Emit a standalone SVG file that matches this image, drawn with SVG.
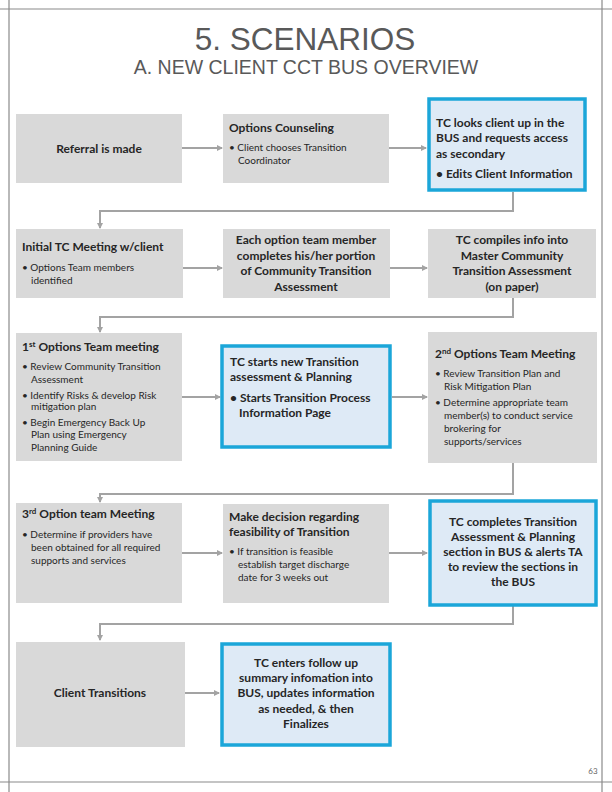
<svg xmlns="http://www.w3.org/2000/svg" width="612" height="792" viewBox="0 0 612 792">
<style>
.frame{stroke:#8a8a8a;stroke-width:1.2;fill:none}
.box{fill:#d9d9d9}
.blue{fill:#deeaf6;stroke:#1ba6d9;stroke-width:3.5}
.conn{stroke:#a3a3a3;stroke-width:2;fill:none}
text{font-family:Lato,"Liberation Sans",sans-serif;fill:#262626}
.h{font-size:12px;font-weight:bold}
.b{font-size:10px}
.bb{font-size:12px;font-weight:bold}
.c{text-anchor:middle}
.title{font-family:"Liberation Sans",Arial,sans-serif;fill:#595959}
</style>
<defs>
<marker id="ah" viewBox="0 0 6 6" refX="5" refY="3" markerWidth="3" markerHeight="3" orient="auto" markerUnits="strokeWidth">
<path d="M0,0 L6,3 L0,6 z" fill="#a3a3a3"/>
</marker>
</defs>
<rect width="612" height="792" fill="#ffffff"/>
<g id="frame">
<line class="frame" x1="0" y1="9" x2="612" y2="9"/>
<line class="frame" x1="0" y1="782" x2="612" y2="782"/>
<line class="frame" x1="9" y1="0" x2="9" y2="792"/>
<line class="frame" x1="602" y1="0" x2="602" y2="792"/>
</g>
<g id="titles">
<text class="title" x="305" y="50" font-size="31.5" text-anchor="middle">5. SCENARIOS</text>
<text class="title" x="306" y="74" font-size="19.5" text-anchor="middle">A. NEW CLIENT CCT BUS OVERVIEW</text>
</g>
<g id="connectors">
<line class="conn" x1="182" y1="148" x2="222" y2="148" marker-end="url(#ah)"/>
<line class="conn" x1="389" y1="148" x2="426" y2="148" marker-end="url(#ah)"/>
<path class="conn" d="M513,192 V211 H100 V228" marker-end="url(#ah)"/>
<line class="conn" x1="183" y1="268" x2="222" y2="268" marker-end="url(#ah)"/>
<line class="conn" x1="390" y1="268" x2="427" y2="268" marker-end="url(#ah)"/>
<path class="conn" d="M513,298 V317 H100 V332" marker-end="url(#ah)"/>
<line class="conn" x1="182" y1="397" x2="220" y2="397" marker-end="url(#ah)"/>
<line class="conn" x1="392" y1="397" x2="427" y2="397" marker-end="url(#ah)"/>
<path class="conn" d="M513,463 V494 H100 V502" marker-end="url(#ah)"/>
<line class="conn" x1="182" y1="553" x2="222" y2="553" marker-end="url(#ah)"/>
<line class="conn" x1="389" y1="553" x2="427" y2="553" marker-end="url(#ah)"/>
<path class="conn" d="M513,606 V624 H100 V640" marker-end="url(#ah)"/>
<line class="conn" x1="185" y1="693" x2="219" y2="693" marker-end="url(#ah)"/>
</g>
<g id="referral">
<rect class="box" x="16" y="114" width="166" height="69"/>
<text class="h c" x="99" y="153">Referral is made</text>
</g>
<g id="options-counseling">
<rect class="box" x="223" y="114" width="166" height="69"/>
<text class="h" x="229" y="132">Options Counseling</text>
<text class="b" x="229" y="151">• Client chooses Transition</text>
<text class="b" x="238" y="164">Coordinator</text>
</g>
<g id="tc-looks-up">
<rect class="blue" x="429" y="99" width="156" height="91"/>
<text class="bb" x="436" y="127">TC looks client up in the</text>
<text class="bb" x="436" y="142">BUS and requests access</text>
<text class="bb" x="436" y="158">as secondary</text>
<text class="bb" x="436" y="178">• Edits Client Information</text>
</g>
<g id="initial-tc-meeting">
<rect class="box" x="16" y="229" width="167" height="69"/>
<text class="h" x="22" y="251">Initial TC Meeting w/client</text>
<text class="b" x="22" y="271">• Options Team members</text>
<text class="b" x="31" y="284">identified</text>
</g>
<g id="each-option">
<rect class="box" x="223" y="229" width="167" height="69"/>
<text class="bb c" x="306" y="244">Each option team member</text>
<text class="bb c" x="306" y="260">completes his/her portion</text>
<text class="bb c" x="306" y="275">of Community Transition</text>
<text class="bb c" x="306" y="291">Assessment</text>
</g>
<g id="tc-compiles">
<rect class="box" x="428" y="229" width="168" height="69"/>
<text class="bb c" x="512" y="244">TC compiles info into</text>
<text class="bb c" x="512" y="260">Master Community</text>
<text class="bb c" x="512" y="275">Transition Assessment</text>
<text class="bb c" x="512" y="291">(on paper)</text>
</g>
<g id="first-options-meeting">
<rect class="box" x="16" y="333" width="166" height="128"/>
<text class="h" x="22" y="351">1<tspan font-size="8" dy="-4">st</tspan><tspan dy="4"> Options Team meeting</tspan></text>
<text class="b" x="22" y="370">• Review Community Transition</text>
<text class="b" x="31" y="383">Assessment</text>
<text class="b" x="22" y="399">• Identify Risks &amp; develop Risk</text>
<text class="b" x="31" y="410">mitigation plan</text>
<text class="b" x="22" y="426">• Begin Emergency Back Up</text>
<text class="b" x="31" y="438">Plan using Emergency</text>
<text class="b" x="31" y="451">Planning Guide</text>
</g>
<g id="tc-starts">
<rect class="blue" x="222" y="346" width="168" height="101"/>
<text class="bb" x="230" y="366">TC starts new Transition</text>
<text class="bb" x="230" y="381">assessment &amp; Planning</text>
<text class="bb" x="230" y="402">• Starts Transition Process</text>
<text class="bb" x="239" y="417">Information Page</text>
</g>
<g id="second-options-meeting">
<rect class="box" x="428" y="332" width="169" height="131"/>
<text class="h" x="435" y="358">2<tspan font-size="8" dy="-4">nd</tspan><tspan dy="4"> Options Team Meeting</tspan></text>
<text class="b" x="435" y="377">• Review Transition Plan and</text>
<text class="b" x="444" y="390">Risk Mitigation Plan</text>
<text class="b" x="435" y="406">• Determine appropriate team</text>
<text class="b" x="444" y="419">member(s) to conduct service</text>
<text class="b" x="444" y="432">brokering for</text>
<text class="b" x="444" y="445">supports/services</text>
</g>
<g id="third-option-meeting">
<rect class="box" x="16" y="503" width="166" height="100"/>
<text class="h" x="22" y="518">3<tspan font-size="8" dy="-4">rd</tspan><tspan dy="4"> Option team Meeting</tspan></text>
<text class="b" x="22" y="538">• Determine if providers have</text>
<text class="b" x="31" y="551">been obtained for all required</text>
<text class="b" x="31" y="564">supports and services</text>
</g>
<g id="make-decision">
<rect class="box" x="223" y="504" width="166" height="99"/>
<text class="h" x="229" y="521">Make decision regarding</text>
<text class="h" x="229" y="536">feasibility of Transition</text>
<text class="b" x="229" y="555">• If transition is feasible</text>
<text class="b" x="238" y="568">establish target discharge</text>
<text class="b" x="238" y="581">date for 3 weeks out</text>
</g>
<g id="tc-completes">
<rect class="blue" x="430" y="501" width="166" height="104"/>
<text class="bb c" x="513" y="526">TC completes Transition</text>
<text class="bb c" x="513" y="541">Assessment &amp; Planning</text>
<text class="bb c" x="513" y="556">section in BUS &amp; alerts TA</text>
<text class="bb c" x="513" y="571">to review the sections in</text>
<text class="bb c" x="513" y="586">the BUS</text>
</g>
<g id="client-transitions">
<rect class="box" x="16" y="642" width="169" height="105"/>
<text class="h c" x="100" y="697">Client Transitions</text>
</g>
<g id="tc-enters">
<rect class="blue" x="222" y="644" width="168" height="101"/>
<text class="bb c" x="306" y="667">TC enters follow up</text>
<text class="bb c" x="306" y="682">summary infomation into</text>
<text class="bb c" x="306" y="697">BUS, updates information</text>
<text class="bb c" x="306" y="713">as needed, &amp; then</text>
<text class="bb c" x="306" y="728">Finalizes</text>
</g>
<text x="593" y="774" font-size="8" fill="#666" text-anchor="middle" style="fill:#666">63</text>
</svg>
